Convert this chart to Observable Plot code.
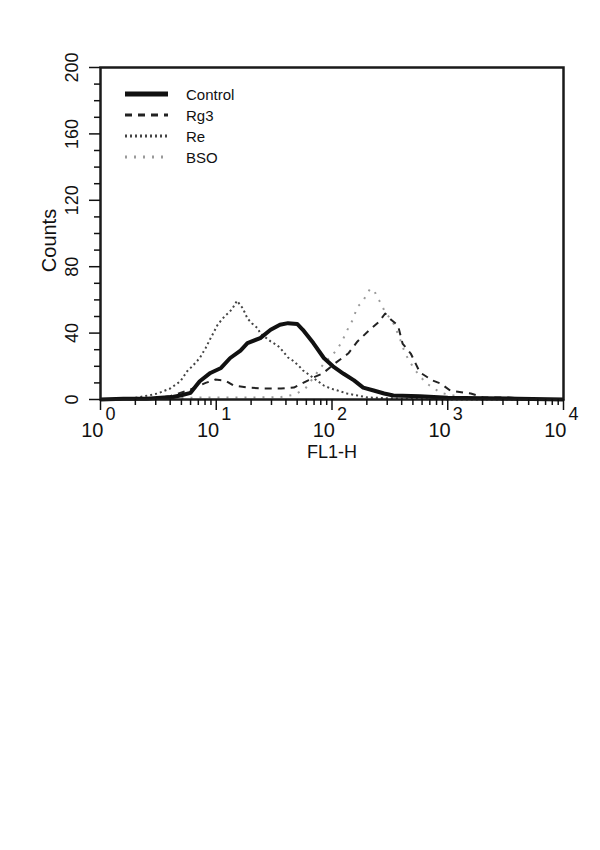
<!DOCTYPE html>
<html><head><meta charset="utf-8">
<script src="https://cdn.jsdelivr.net/npm/d3@7"></script>
<script src="https://cdn.jsdelivr.net/npm/@observablehq/plot@0.6"></script>
<style>
body{margin:0;background:#fff;}
#chart{width:600px;height:850px;}
svg text{font-family:"Liberation Sans",Arial,Helvetica,sans-serif;}
</style>
</head><body><div id="chart"></div>
<script>
// ---- data ----
const seriesNames = ["Control", "Rg3", "Re", "BSO"];

const controlX = [1,1.58,2.51,3.3,4.2,4.9,6.0,7.2,8.9,11,13.2,16.2,18.6,24,29.5,35.5,41.7,50,56,69,85,102,126,155,186,229,282,339,575,1000,2000,3980,10000];
const controlCounts = [0,0.5,0.5,1,1.5,2.4,4,11,16,19,25,29.5,34,37,42,45,46,45.5,42,34,25,20,15.5,11.5,7.2,5.4,3.6,2.4,2,1,0.8,0.5,0];

const rg3X = [1,2.7,4.0,6.0,8.1,9.8,12.0,14.1,18.6,25.7,36.3,46.8,61.7,69.2,83.2,107,138,166,209,251,288,324,372,407,479,575,741,871,1050,1580,2040,3310,4470,10000];
const rg3Counts = [0,0.5,2,6,10,12,11.4,8.4,7.2,6.6,6.6,7.2,11.4,13.3,15.7,22,27.7,35,41.6,46.4,51.8,48,44.6,33.7,27.7,16.3,11.4,9.6,5.4,3.6,1.2,1.2,0.5,0];

const reX = [1,1.8,2.6,3.1,4.0,4.9,5.6,6.2,6.6,7.2,8.1,8.9,9.5,10.2,11.0,12.0,12.9,13.8,15.1,17.0,18.6,20.4,22.9,24.0,29.5,33.9,37.2,41.7,45.7,51.3,56.2,64.6,74.1,85.1,97.7,112,135,166,204,398,1000,10000];
const reCounts = [0,0.5,2.4,3.6,6.6,11,17,20,22,25,31,36.7,40.4,44.6,47.6,50.6,52.4,54.8,59.5,54.8,48.8,45.8,42.8,39.8,35,32.5,29.5,25.3,23.5,20.5,17.5,14.5,11.4,8.4,6.6,5.4,3.6,2.4,1.2,0.5,0,0];

const bsoX = [1,3.3,7.2,20,36.3,47.9,58.9,69.2,85.1,100,112,123,135,151,166,182,204,214,234,245,263,288,331,355,389,417,457,525,646,871,1290,2880,10000];
const bsoCounts = [0,0.5,1.2,1.2,1.5,3,6.6,13.3,21.7,26.5,30.7,35.5,41.6,48,56,58.4,64.4,66.8,65,61.4,58.4,52.4,47.6,42.8,36,30,24,17.5,10,4,1.5,0.5,0];

const yMajorTicks = [0,40,80,120,160,200];
const yMinorTicks = [10,20,30,50,60,70,90,100,110,130,140,150,170,180,190];
const xDecades = [1,10,100,1000,10000];
const xExponents = ["0","1","2","3","4"];
const xMinorTicks = [2,3,4,5,6,7,8,9,20,30,40,50,60,70,80,90,200,300,400,500,600,700,800,900,2000,3000,4000,5000,6000,7000,8000,9000];
const xLabel = "FL1-H";
const yLabel = "Counts";

// ---- styles ----
const styles = {
  Control: {stroke: "#111", strokeWidth: 4, dash: null},
  Rg3: {stroke: "#222", strokeWidth: 2, dash: "7,6"},
  Re: {stroke: "#444", strokeWidth: 2, dash: "2,3"},
  BSO: {stroke: "#9a9a9a", strokeWidth: 2, dash: "2,7"}
};

const seriesX = {Control: controlX, Rg3: rg3X, Re: reX, BSO: bsoX};
const seriesY = {Control: controlCounts, Rg3: rg3Counts, Re: reCounts, BSO: bsoCounts};
const rows = name => seriesX[name].map((x, i) => ({x, y: seriesY[name][i]}));

const W = 600, H = 850, mT = 67, mB = 451, mL = 100, mR = 37;
const FW = W - mL - mR, FH = H - mT - mB;
const font = "Liberation Sans, Arial, sans-serif";

const lineMarks = ["BSO", "Re", "Rg3", "Control"].map(name => Plot.line(rows(name), {
  x: "x", y: "y", stroke: styles[name].stroke, strokeWidth: styles[name].strokeWidth,
  strokeDasharray: styles[name].dash || undefined, strokeLinecap: "butt", strokeLinejoin: "round"
}));

const chart = Plot.plot({
  width: W, height: H,
  marginTop: mT, marginBottom: mB, marginLeft: mL, marginRight: mR,
  style: {fontFamily: font, background: "#fff", color: "#111"},
  x: {type: "log", domain: [1, 10000], axis: null},
  y: {domain: [0, 200], axis: null},
  marks: [
    ...lineMarks,
    Plot.frame({stroke: "#1a1a1a", strokeWidth: 2.5}),
    Plot.ruleY(yMinorTicks, {y: d => d, insetLeft: -6, insetRight: FW, stroke: "#111", strokeWidth: 1.5}),
    Plot.ruleY(yMajorTicks, {y: d => d, insetLeft: -11, insetRight: FW, stroke: "#111", strokeWidth: 1.5}),
    Plot.ruleX(xMinorTicks, {x: d => d, insetTop: FH, insetBottom: -6, stroke: "#111", strokeWidth: 1.5}),
    Plot.ruleX(xDecades, {x: d => d, insetTop: FH, insetBottom: -11, stroke: "#111", strokeWidth: 1.5}),
    Plot.text(yMajorTicks, {y: d => d, text: d => String(d), frameAnchor: "left", textAnchor: "middle", lineAnchor: "middle", dx: -28, rotate: -90, fontSize: 18, fill: "#111"}),
    Plot.text(xDecades, {x: d => d, text: () => "10", frameAnchor: "bottom", textAnchor: "end", lineAnchor: "bottom", dx: 3, dy: 37, fontSize: 20, fill: "#111"}),
    Plot.text(xDecades, {x: d => d, text: (d, i) => xExponents[i], frameAnchor: "bottom", textAnchor: "start", lineAnchor: "bottom", dx: 5, dy: 20, fontSize: 18, fill: "#111"}),
    Plot.text([xLabel], {text: d => d, frameAnchor: "bottom", lineAnchor: "bottom", dy: 58, fontSize: 18, fill: "#111"}),
    Plot.text([yLabel], {text: d => d, frameAnchor: "left", textAnchor: "middle", lineAnchor: "middle", dx: -51, dy: 7, rotate: -90, fontSize: 20, fill: "#111"})
  ]
});
document.getElementById("chart").appendChild(chart);

// ---- legend inside the plot ----
const svg = d3.select(chart);
const lg = svg.append("g").attr("text-anchor", "start");
const legendX1 = 125, legendX2 = 168, legendTextX = 186, legendTop = 94, legendStep = 21;
seriesNames.forEach((name, i) => {
  const cy = legendTop + i * legendStep;
  lg.append("line").attr("x1", legendX1).attr("x2", legendX2).attr("y1", cy).attr("y2", cy)
    .attr("stroke", styles[name].stroke).attr("stroke-width", name === "Control" ? 5 : 3)
    .attr("stroke-dasharray", styles[name].dash || null);
  lg.append("text").attr("x", legendTextX).attr("y", cy + 6).attr("font-size", 15)
    .attr("text-anchor", "start")
    .attr("fill", "#111").style("font-family", font).text(name);
});
</script>
</body></html>
